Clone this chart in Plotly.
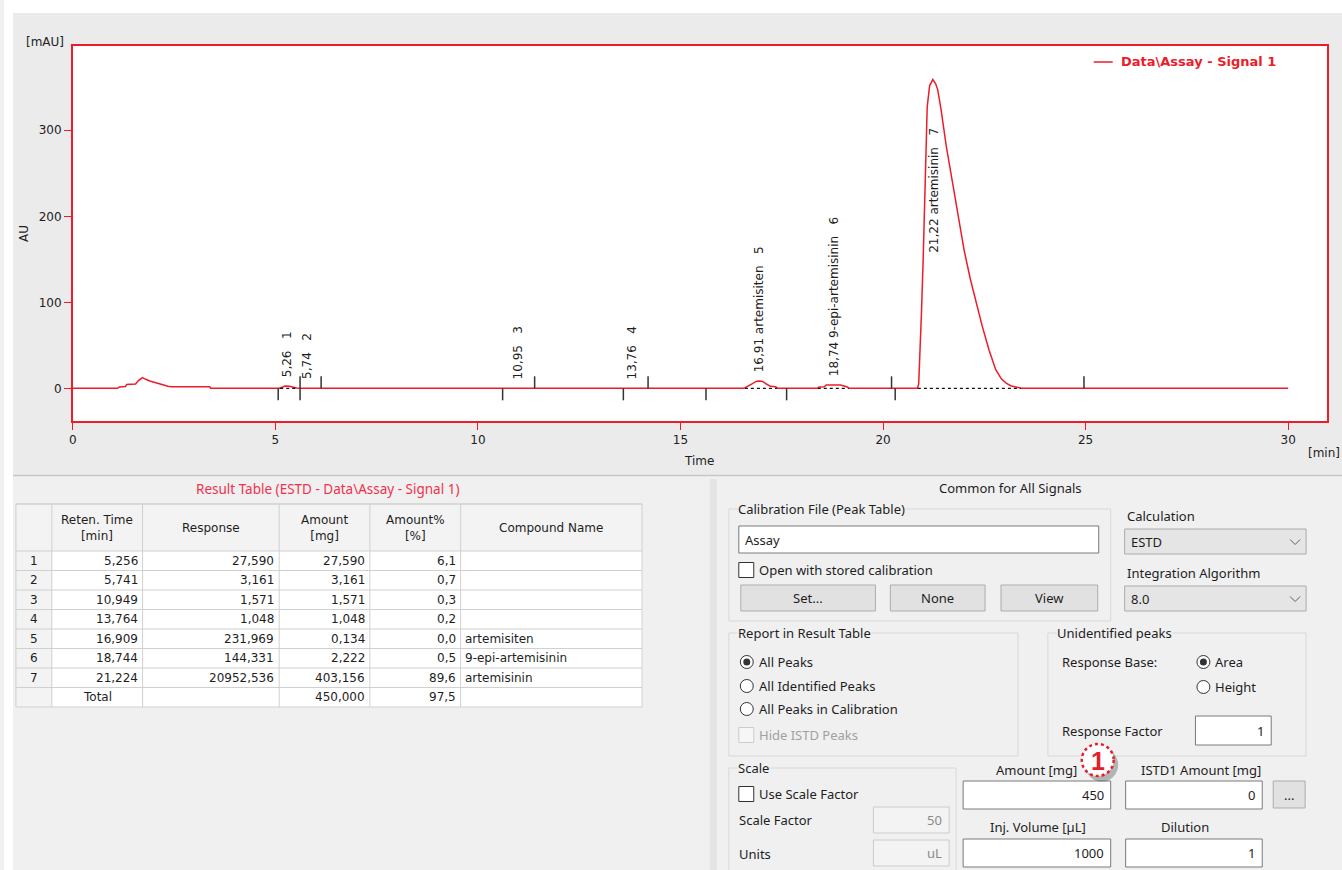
import plotly.graph_objects as go

W, H = 1342, 870

# ---------------- chromatogram data ----------------
time_min = [0.00, 1.10, 1.15, 1.30, 1.33, 1.55, 1.62, 1.72, 1.80, 1.90, 2.05, 2.20, 2.35, 2.42, 3.38, 3.40,
            5.10, 5.18, 5.24, 5.35, 5.45, 5.52, 5.60, 5.70, 5.80,
            10.85, 10.95, 11.05, 13.66, 13.76, 13.86,
            16.55, 16.60, 16.70, 16.80, 16.88, 16.95, 17.03, 17.12, 17.22, 17.35, 17.40,
            18.38, 18.42, 18.55, 18.60, 18.95, 19.05, 19.12, 19.16,
            20.85, 20.88, 20.90, 20.95, 20.99, 21.02, 21.06, 21.09, 21.15, 21.23, 21.30, 21.35, 21.43,
            21.56, 21.72, 21.87, 22.00, 22.15, 22.30, 22.45, 22.62, 22.78, 22.92, 23.04, 23.15, 23.26, 23.41,
            30.00]
signal_mau = [0.0, 0.0, 1.5, 2.0, 4.5, 5.0, 9.0, 12.5, 10.5, 8.5, 6.5, 4.2, 2.5, 1.9, 1.9, 0.0,
              0.0, 1.5, 2.7, 2.5, 1.0, 0.3, 0.0, 0.3, 0.0,
              0.0, 0.3, 0.0, 0.0, 0.3, 0.0,
              0.0, 0.8, 3.5, 6.5, 8.3, 8.5, 8.0, 5.0, 2.3, 1.8, 0.0,
              0.0, 1.5, 1.8, 3.8, 3.8, 2.5, 1.5, 0.0,
              0.0, 5.0, 25.0, 90.0, 149.0, 199.0, 275.0, 327.0, 352.0, 359.0, 354.0, 347.0, 325.0,
              282.0, 238.0, 196.0, 161.0, 128.0, 100.0, 72.0, 44.0, 22.0, 11.0, 6.0, 3.0, 1.5, 0.0,
              0.0]

# integration events (peak start / end markers)
event_down = [5.07, 5.61, 10.61, 13.59, 15.63, 17.62, 20.30]
event_up = [5.61, 6.13, 11.40, 14.20, 20.21, 24.96]
# dashed integration baselines (start, end)
baseline_start = [5.12, 16.59, 18.39, 20.86]
baseline_end = [5.50, 17.38, 19.15, 23.40]

# ---------------- result table data ----------------
peak_no = [1, 2, 3, 4, 5, 6, 7]
ret_time = [5.256, 5.741, 10.949, 13.764, 16.909, 18.744, 21.224]
response = [27.590, 3.161, 1.571, 1.048, 231.969, 144.331, 20952.536]
amount_mg = [27.590, 3.161, 1.571, 1.048, 0.134, 2.222, 403.156]
amount_pct = [6.1, 0.7, 0.3, 0.2, 0.0, 0.5, 89.6]
compound = ["", "", "", "", "artemisiten", "9-epi-artemisinin", "artemisinin"]
total_amount = 450.000
total_pct = 97.5
peak_apex = [2.7, 0.3, 0.3, 0.3, 8.5, 3.8, 359.0]
header = ["", "Reten. Time<br>[min]", "Response", "Amount<br>[mg]", "Amount%<br>[%]", "Compound Name"]

x_ticks = [0, 5, 10, 15, 20, 25, 30]
y_ticks = [0, 100, 200, 300]

# ---------------- style ----------------
RED = "#ec1c2a"
TXT = "#1e1e1e"
CF = "DejaVu Sans"
UI = "Noto Sans"
UIS = 13
TF = "DejaVu Sans"
TFS = 12

shapes, ann = [], []


def X(px):
    return px / W


def Y(py):
    return 1 - py / H


def rect(x0, y0, x1, y1, fill=None, line=None, lw=1, dash=None, layer="above"):
    shapes.append(dict(type="rect", xref="paper", yref="paper",
                       x0=X(x0), x1=X(x1), y0=Y(y1), y1=Y(y0),
                       fillcolor=fill or "rgba(0,0,0,0)",
                       line=dict(color=line or "rgba(0,0,0,0)", width=lw if line else 0, dash=dash),
                       layer=layer))


def circle(cx, cy, r, fill=None, line=None, lw=1, dash=None):
    shapes.append(dict(type="circle", xref="paper", yref="paper",
                       x0=X(cx - r), x1=X(cx + r), y0=Y(cy + r), y1=Y(cy - r),
                       fillcolor=fill or "rgba(0,0,0,0)",
                       line=dict(color=line or "rgba(0,0,0,0)", width=lw if line else 0, dash=dash)))


def hline(x0, x1, y, color, lw=1):
    shapes.append(dict(type="line", xref="paper", yref="paper", x0=X(x0), x1=X(x1), y0=Y(y), y1=Y(y),
                       line=dict(color=color, width=lw)))


def txt(x, y, s, size=UIS, color=TXT, xa="left", ya="middle", fam=UI, angle=0, bg=None):
    d = dict(x=X(x), y=Y(y), xref="paper", yref="paper", text=s, showarrow=False,
             xanchor=xa, yanchor=ya, textangle=angle, borderpad=0,
             font=dict(family=fam, size=size, color=color))
    if bg:
        d["bgcolor"] = bg
    ann.append(d)


def group(x0, y0, x1, y1, label):
    rect(x0, y0, x1, y1, line="#d8d8d8", lw=1)
    txt(x0 + 8, y0, label, bg="#f0f0f0")


def textbox(x0, y0, x1, y1, s, align="right", disabled=False):
    rect(x0, y0, x1, y1, fill="#f3f3f3" if disabled else "#ffffff",
         line="#cccccc" if disabled else "#7a7a7a", lw=1)
    col = "#8a8a8a" if disabled else TXT
    if align == "right":
        txt(x1 - 6, (y0 + y1) / 2, s, color=col, xa="right")
    else:
        txt(x0 + 5, (y0 + y1) / 2, s, color=col, xa="left")


def button(x0, y0, x1, y1, s):
    rect(x0, y0, x1, y1, fill="#e1e1e1", line="#adadad", lw=1)
    txt((x0 + x1) / 2, (y0 + y1) / 2, s, xa="center")


def dropdown(x0, y0, x1, y1, s):
    rect(x0, y0, x1, y1, fill="#e5e5e5", line="#acacac", lw=1)
    txt(x0 + 5, (y0 + y1) / 2, s)
    cx, cy = x1 - 11, (y0 + y1) / 2
    shapes.append(dict(type="path", xref="paper", yref="paper",
                       path=f"M {X(cx-5)} {Y(cy-2)} L {X(cx)} {Y(cy+3)} L {X(cx+5)} {Y(cy-2)}",
                       line=dict(color="#606060", width=1)))


def checkbox(x, yc, s, disabled=False):
    rect(x, yc - 7.5, x + 15, yc + 7.5, fill="#f6f6f6" if disabled else "#ffffff",
         line="#cccccc" if disabled else "#333333", lw=1)
    txt(x + 19, yc, s, color="#a0a0a0" if disabled else TXT)


def radio(cx, cy, s, on=False):
    circle(cx, cy, 6.5, fill="#ffffff", line="#333333", lw=1)
    if on:
        circle(cx, cy, 3.5, fill="#333333")
    txt(cx + 11, cy, s)


# ---------------- background panels ----------------
rect(0, 0, W, H, fill="#f0f0f0", layer="below")
rect(9, 13, W, 475, fill="#ebebeb", layer="below")
rect(69, 46, 1327, 421, fill="#ffffff", layer="below")
rect(0, 0, 9, H, fill="#ffffff", layer="below")
rect(0, 0, W, 13, fill="#ffffff", layer="below")
hline(9, W, 475.5, "#c6c6c6", 1.5)
rect(708, 479, 715, H, fill="#e4e4e4", layer="below")

# ---------------- chromatogram ----------------
fig = go.Figure()
fig.add_trace(go.Scatter(x=time_min, y=signal_mau, mode="lines",
                         line=dict(color=RED, width=1.5), name="Data\\Assay - Signal 1",
                         showlegend=False, hoverinfo="skip"))

for t in event_down:
    shapes.append(dict(type="line", xref="x", yref="y", x0=t, x1=t, ysizemode="pixel", yanchor=0,
                       y0=0, y1=-12, line=dict(color="#333333", width=1.5)))
for t in event_up:
    shapes.append(dict(type="line", xref="x", yref="y", x0=t, x1=t, ysizemode="pixel", yanchor=0,
                       y0=0, y1=12, line=dict(color="#333333", width=1.5)))
for a, b in zip(baseline_start, baseline_end):
    shapes.append(dict(type="line", xref="x", yref="y", x0=a, x1=b, y0=0, y1=0,
                       line=dict(color="#111111", width=1.2, dash="3px,3px")))

# peak labels
NB = "\u00a0"
label_anchor_override = {7: 156.0}
for i, n in enumerate(peak_no):
    rt_txt = f"{ret_time[i]:.2f}".replace(".", ",")
    s = rt_txt + (" " + compound[i] if compound[i] else "") + NB * 3 + str(n)
    yv = label_anchor_override.get(n, peak_apex[i])
    ann.append(dict(x=ret_time[i], y=yv, xref="x", yref="y", text=s, showarrow=False,
                    textangle=-90, xanchor="center", yanchor="bottom", xshift=1.5,
                    yshift=0 if n in label_anchor_override else 8, borderpad=0,
                    font=dict(family=CF, size=12, color=TXT)))

# axis titles / units / legend
txt(41, 42, "[mAU]", fam=CF, size=12, xa="center")
txt(20, 233, "AU", fam=CF, size=12, xa="center", angle=-90)
txt(697, 461, "Time", fam=CF, size=12, xa="center")
txt(1324, 453, "[min]", fam=CF, size=12, xa="center")
hline(1093, 1112, 62, RED, 1.5)
txt(1119, 62, "<b>Data\\Assay - Signal 1</b>", fam=CF, color=RED, size=13)

# ---------------- result table ----------------
col_edges = [12, 48, 139, 276, 367, 458, 640]
tbl_top, hdr_bot, row_h = 504, 551, 19.5
n_rows = len(peak_no) + 1
tbl_bot = hdr_bot + n_rows * row_h
txt(324, 489, "Result Table (ESTD - Data\\Assay - Signal 1)", color="#f0304e", xa="center", size=13.5)
rect(col_edges[0], tbl_top, col_edges[-1], hdr_bot, fill="#f3f3f3", layer="below")
rect(col_edges[0], hdr_bot, col_edges[1], tbl_bot, fill="#f3f3f3", layer="below")
rect(col_edges[1], hdr_bot, col_edges[-1], tbl_bot, fill="#ffffff", layer="below")
for k in range(n_rows + 1):
    hline(col_edges[0], col_edges[-1], hdr_bot + k * row_h, "#d0d0d0", 1)
hline(col_edges[0], col_edges[-1], tbl_top, "#c0c0c0", 1)
for xe in col_edges:
    shapes.append(dict(type="line", xref="paper", yref="paper", x0=X(xe), x1=X(xe),
                       y0=Y(tbl_top), y1=Y(tbl_bot), line=dict(color="#d0d0d0", width=1)))
for j, h in enumerate(header):
    if h:
        txt((col_edges[j] + col_edges[j + 1]) / 2, (tbl_top + hdr_bot) / 2, h, xa="center",
            fam=TF, size=TFS)


def fmt(v, d):
    return f"{v:.{d}f}".replace(".", ",")


for i in range(len(peak_no)):
    yc = hdr_bot + (i + 0.5) * row_h
    txt((col_edges[0] + col_edges[1]) / 2, yc, str(peak_no[i]), xa="center", fam=TF, size=TFS)
    txt(col_edges[2] - 4, yc, fmt(ret_time[i], 3), xa="right", fam=TF, size=TFS)
    txt(col_edges[3] - 4, yc, fmt(response[i], 3), xa="right", fam=TF, size=TFS)
    txt(col_edges[4] - 4, yc, fmt(amount_mg[i], 3), xa="right", fam=TF, size=TFS)
    txt(col_edges[5] - 4, yc, fmt(amount_pct[i], 1), xa="right", fam=TF, size=TFS)
    if compound[i]:
        txt(col_edges[5] + 3, yc, compound[i], fam=TF, size=TFS)
yc = hdr_bot + (len(peak_no) + 0.5) * row_h
txt((col_edges[1] + col_edges[2]) / 2, yc, "Total", xa="center", fam=TF, size=TFS)
txt(col_edges[4] - 4, yc, fmt(total_amount, 3), xa="right", fam=TF, size=TFS)
txt(col_edges[5] - 4, yc, fmt(total_pct, 1), xa="right", fam=TF, size=TFS)

# ---------------- right settings panel ----------------
txt(1010, 488, "Common for All Signals", xa="center")
group(727, 509, 1110, 621, "Calibration File (Peak Table)")
textbox(737, 526, 1098, 553, "Assay", align="left")
checkbox(737, 570, "Open with stored calibration")
button(739, 585, 874, 611, "Set...")
button(889, 585, 984, 611, "None")
button(1000, 585, 1097, 611, "View")
txt(1125, 516, "Calculation")
dropdown(1124, 529, 1306, 554, "ESTD")
txt(1125, 573, "Integration Algorithm")
dropdown(1124, 586, 1306, 611, "8.0")

group(727, 633, 1017, 756, "Report in Result Table")
radio(745, 662, "All Peaks", True)
radio(745, 686, "All Identified Peaks")
radio(745, 709, "All Peaks in Calibration")
checkbox(737, 735, "Hide ISTD Peaks", disabled=True)

group(1047, 633, 1306, 756, "Unidentified peaks")
txt(1060, 662, "Response Base:")
radio(1203, 662, "Area", True)
radio(1203, 687, "Height")
txt(1060, 731, "Response Factor")
textbox(1195, 716, 1271, 745, "1")

group(727, 768, 955, 885, "Scale")
checkbox(737, 794, "Use Scale Factor")
txt(736, 820, "Scale Factor")
textbox(872, 807, 948, 833, "50", disabled=True)
txt(736, 854, "Units")
textbox(872, 840, 948, 866, "uL", disabled=True)

txt(1036, 770, "Amount [mg]", xa="center")
textbox(962, 781, 1110, 809, "450")
txt(1201, 770, "ISTD1 Amount [mg]", xa="center")
textbox(1125, 781, 1262, 809, "0")
button(1273, 781, 1305, 808, "...")
txt(1037, 827, "Inj. Volume [µL]", xa="center")
textbox(962, 839, 1110, 867, "1000")
txt(1185, 827, "Dilution", xa="center")
textbox(1125, 839, 1262, 867, "1")

# callout badge
circle(1101, 765, 16.5, fill="rgba(0,0,0,0.25)")
circle(1097, 760, 16, fill="#ffffff", line="#e0202a", lw=2.5, dash="dot")
txt(1097, 761, "<b>1</b>", size=25, color="#e0202a", xa="center", fam="Liberation Sans")

# ---------------- layout ----------------
fig.update_layout(
    width=W, height=H, autosize=False,
    margin=dict(l=0, r=0, t=0, b=0, pad=0),
    paper_bgcolor="#f0f0f0", plot_bgcolor="rgba(0,0,0,0)",
    showlegend=False,
    shapes=shapes, annotations=ann,
    xaxis=dict(domain=[X(69), X(1327)], range=[0, 30.96], tickvals=x_ticks,
               showgrid=False, zeroline=False, showline=True, mirror=True,
               linecolor=RED, linewidth=1.5, ticks="outside", ticklen=7, tickcolor=RED,
               tickfont=dict(family=CF, size=12, color="#222222")),
    yaxis=dict(domain=[Y(421), Y(46)], range=[-38.0, 398.0], tickvals=y_ticks,
               showgrid=False, zeroline=False, showline=True, mirror=True,
               linecolor=RED, linewidth=1.5, ticks="outside", ticklen=7, tickcolor=RED,
               tickfont=dict(family=CF, size=12, color="#222222")),
    hovermode=False,
)

fig.write_html("out.html")
